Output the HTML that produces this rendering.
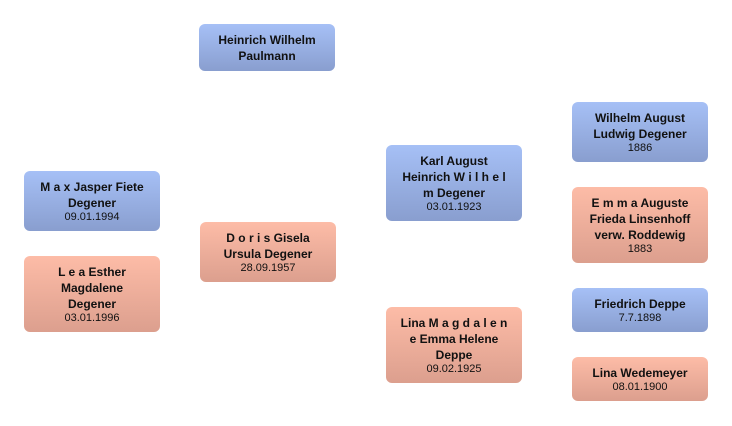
<!DOCTYPE html>
<html><head><meta charset="utf-8"><style>
html,body{margin:0;padding:0;background:#fff;width:732px;height:426px;overflow:hidden;}
.b{position:absolute;width:136px;border-radius:6px;display:flex;flex-direction:column;justify-content:center;align-items:center;text-align:center;font-family:"Liberation Sans","DejaVu Sans",sans-serif;color:#111;box-sizing:border-box;padding:0;white-space:nowrap;}
.m{background:linear-gradient(#a6c0f6,#899ecf);}
.f{background:linear-gradient(#fdbca7,#dc9f8e);}
.n{font-weight:bold;font-size:12px;line-height:16px;}
.d{font-size:11px;line-height:13px;}
</style></head><body>
<div class="b m" style="left:199px;top:24px;height:47px"><div class="n">Heinrich Wilhelm<br>Paulmann</div></div>
<div class="b m" style="left:24px;top:171px;height:60px"><div class="n">M a x Jasper Fiete<br>Degener</div><div class="d">09.01.1994</div></div>
<div class="b f" style="left:24px;top:256px;height:76px"><div class="n">L e a Esther<br>Magdalene<br>Degener</div><div class="d">03.01.1996</div></div>
<div class="b f" style="left:200px;top:222px;height:60px"><div class="n">D o r i s Gisela<br>Ursula Degener</div><div class="d">28.09.1957</div></div>
<div class="b m" style="left:386px;top:145px;height:76px"><div class="n">Karl August<br>Heinrich W i l h e l<br>m Degener</div><div class="d">03.01.1923</div></div>
<div class="b f" style="left:386px;top:307px;height:76px"><div class="n">Lina M a g d a l e n<br>e Emma Helene<br>Deppe</div><div class="d">09.02.1925</div></div>
<div class="b m" style="left:572px;top:102px;height:60px"><div class="n">Wilhelm August<br>Ludwig Degener</div><div class="d">1886</div></div>
<div class="b f" style="left:572px;top:187px;height:76px"><div class="n">E m m a Auguste<br>Frieda Linsenhoff<br>verw. Roddewig</div><div class="d">1883</div></div>
<div class="b m" style="left:572px;top:288px;height:44px"><div class="n">Friedrich Deppe</div><div class="d">7.7.1898</div></div>
<div class="b f" style="left:572px;top:357px;height:44px"><div class="n">Lina Wedemeyer</div><div class="d">08.01.1900</div></div>
</body></html>
